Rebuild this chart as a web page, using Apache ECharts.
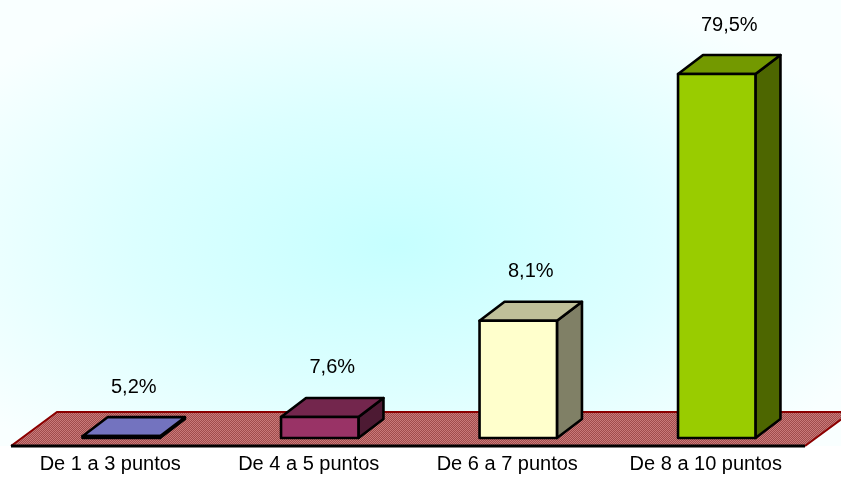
<!DOCTYPE html>
<html>
<head>
<meta charset="utf-8">
<script src="https://cdn.jsdelivr.net/npm/echarts@6/dist/echarts.min.js"></script>
<style>
  html, body { margin: 0; padding: 0; background: #fff; }
  #grafico { width: 841px; height: 479px; }
</style>
</head>
<body>
<div id="grafico"></div>
<script>
	'use strict';

	// categorias y valores
	var categorias = ['De 1 a 3 puntos', 'De 4 a 5 puntos', 'De 6 a 7 puntos', 'De 8 a 10 puntos'];
	var porcentajes = [5.2, 7.6, 8.1, 79.5];      // texto de las etiquetas
	var alturas = [0.4, 4.6, 25.6, 79.5];         // altura dibujada de cada barra
	var colores = ['#9999ff', '#993366', '#ffffcc', '#99cc00'];

	var fondo = ['#c6ffff', '#dcffff', '#f9ffff'];

	function sombra(hex, f) {
		var n = parseInt(hex.slice(1), 16);
		var r = Math.round(((n >> 16) & 255) * f);
		var g = Math.round(((n >> 8) & 255) * f);
		var b = Math.round((n & 255) * f);
		return 'rgb(' + r + ',' + g + ',' + b + ')';
	}

	// trama punteada del suelo
	var trama = document.createElement('canvas');
	trama.width = 2; trama.height = 2;
	var tctx = trama.getContext('2d');
	tctx.fillStyle = '#a04c4c'; tctx.fillRect(0, 0, 2, 2);
	tctx.fillStyle = '#c97a7a'; tctx.fillRect(0, 0, 1, 1); tctx.fillRect(1, 1, 1, 1);

	var prof = { x: 25, y: 19 };       // profundidad de la barra
	var suelo = { x: 46, y: 34 };      // profundidad del suelo
	var desp = { x: 11, y: 8 };        // barra dentro del suelo

	function dibujaSuelo(params, api) {
		var c = params.coordSys;
		var x0 = c.x, x1 = c.x + c.width, y0 = c.y + c.height;
		return {
			type: 'group',
			children: [
				{
					type: 'polygon',
					shape: { points: [[x0, y0], [x1, y0], [x1 + suelo.x, y0 - suelo.y], [x0 + suelo.x, y0 - suelo.y]] },
					style: { fill: { image: trama, repeat: 'repeat' } }
				},
				{
					type: 'polyline',
					shape: { points: [[x0, y0], [x0 + suelo.x, y0 - suelo.y], [x1 + suelo.x, y0 - suelo.y], [x1, y0]] },
					style: { stroke: '#8b0000', lineWidth: 2, fill: null }
				},
				{
					type: 'line',
					shape: { x1: x0, y1: y0, x2: x1, y2: y0 },
					style: { stroke: '#000', lineWidth: 3 }
				}
			]
		};
	}

	function dibujaBarra(params, api) {
		var i = api.value(0);
		var base = api.coord([i, 0]);
		var tope = api.coord([i, api.value(1)]);
		var ancho = api.size([1, 0])[0] * 0.39;
		var xl = base[0] + desp.x - ancho / 2;
		var xr = xl + ancho;
		var yb = base[1] - desp.y;
		var yt = tope[1] - desp.y;
		var col = colores[params.dataIndex];
		var borde = { stroke: '#000', lineWidth: 2.6, lineJoin: 'round' };
		var texto = porcentajes[params.dataIndex].toFixed(1).replace('.', ',') + '%';
		return {
			type: 'group',
			children: [
				{
					type: 'polygon',
					shape: { points: [[xr, yb], [xr + prof.x, yb - prof.y], [xr + prof.x, yt - prof.y], [xr, yt]] },
					style: Object.assign({ fill: sombra(col, 0.5) }, borde)
				},
				{
					type: 'polygon',
					shape: { points: [[xl, yt], [xr, yt], [xr + prof.x, yt - prof.y], [xl + prof.x, yt - prof.y]] },
					style: Object.assign({ fill: sombra(col, 0.75) }, borde)
				},
				{
					type: 'rect',
					shape: { x: xl, y: yt, width: ancho, height: yb - yt },
					style: Object.assign({ fill: col }, borde)
				},
				{
					type: 'text',
					style: {
						text: texto,
						x: (xl + xr) / 2 + prof.x / 2,
						y: yt - prof.y - 30,
						align: 'center',
						verticalAlign: 'middle',
						fontFamily: 'Liberation Sans, Arial, sans-serif',
						fontSize: 20,
						fill: '#000'
					}
				}
			]
		};
	}

	var datosBarras = alturas.map(function (v, i) { return [i, v]; });

	var opcion = {
		animation: false,
		backgroundColor: '#ffffff',
		graphic: [
			{
				type: 'rect',
				z: -10,
				silent: true,
				x: 0, y: 0,
				scaleY: 446 / 841,
				shape: { x: 0, y: 0, width: 841, height: 841 },
				style: {
					fill: {
						type: 'radial', x: 0.47, y: 0.55, r: 0.62,
						colorStops: [
							{ offset: 0, color: fondo[0] },
							{ offset: 0.5, color: fondo[1] },
							{ offset: 1, color: fondo[2] }
						]
					}
				}
			}
		],
		grid: {
			left: 11,
			right: 36,
			top: 34,
			bottom: 33
		},
		xAxis: {
			type: 'category',
			data: categorias,
			axisLine: { show: false },
			axisTick: { show: false },
			axisLabel: {
				margin: 8,
				color: '#000',
				fontSize: 20,
				fontFamily: 'Liberation Sans, Arial, sans-serif'
			}
		},
		yAxis: {
			type: 'value',
			min: 0,
			max: 90,
			show: false
		},
		series: [
			{
				type: 'custom',
				name: 'suelo',
				renderItem: dibujaSuelo,
				data: [[0, 0]],
				z: 1,
				silent: true
			},
			{
				type: 'custom',
				name: 'barras',
				renderItem: dibujaBarra,
				data: datosBarras,
				encode: { x: 0, y: 1 },
				z: 2
			}
		]
	};

	var grafico = echarts.init(document.getElementById('grafico'));
	grafico.setOption(opcion);
</script>
</body>
</html>
